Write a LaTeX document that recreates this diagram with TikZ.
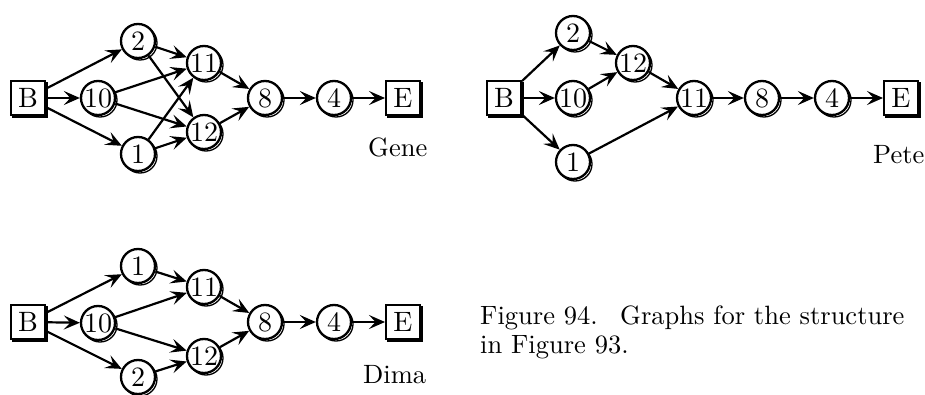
\documentclass[tikz,border=0pt]{standalone}
\usepackage{fontspec}
\setmainfont{lmroman10-regular.otf}
\usetikzlibrary{arrows.meta,shadows}
\begin{document}
\begin{tikzpicture}[x=1pt,y=-1pt,
  nd/.style={circle, draw, line width=2.3pt, fill=white, minimum size=34pt, inner sep=0pt,
    font=\fontsize{28}{32}\selectfont,
    general shadow={shadow xshift=2pt, shadow yshift=-2pt, draw=black, fill=white, line width=1.3pt}},
  bx/.style={rectangle, draw, line width=2pt, fill=white, minimum size=34pt, inner sep=0pt,
    font=\fontsize{28}{32}\selectfont,
    general shadow={shadow xshift=2pt, shadow yshift=-2pt, draw=black, fill=black, line width=2pt}},
  ar/.style={-{Stealth[length=16pt,width=14pt,inset=6.5pt]}, line width=2.2pt},
  lbl/.style={font=\fontsize{26.5}{30}\selectfont, anchor=base west, inner sep=0pt}
]
\useasboundingbox (0,0) rectangle (925,395);
% ---------------- Gene
\node[bx] (gB) at (28,98) {B};
\node[nd] (g2) at (138,41) {2};
\node[nd] (g10) at (98,98) {10};
\node[nd] (g1) at (138,154) {1};
\node[nd] (g11) at (204,63) {11};
\node[nd] (g12) at (204,132) {12};
\node[nd] (g8) at (265,98) {8};
\node[nd] (g4) at (334,98) {4};
\node[bx] (gE) at (403,98) {E};
\node[lbl] (gL) at (368,157) {Gene};
\draw[ar] (gB) -- (g2);
\draw[ar] (gB) -- (g10);
\draw[ar] (gB) -- (g1);
\draw[ar] (g2) -- (g11);
\draw[ar] (g2) -- (g12);
\draw[ar] (g10) -- (g11);
\draw[ar] (g10) -- (g12);
\draw[ar] (g1) -- (g11);
\draw[ar] (g1) -- (g12);
\draw[ar] (g11) -- (g8);
\draw[ar] (g12) -- (g8);
\draw[ar] (g8) -- (g4);
\draw[ar] (g4) -- (gE);
% ---------------- Pete
\node[bx] (pB) at (504,98) {B};
\node[nd] (p2) at (573,33) {2};
\node[nd] (p10) at (573,98) {10};
\node[nd] (p1) at (573,162) {1};
\node[nd] (p12) at (633,63) {12};
\node[nd] (p11) at (694,98) {11};
\node[nd] (p8) at (762,98) {8};
\node[nd] (p4) at (832,98) {4};
\node[bx] (pE) at (901,98) {E};
\node[lbl] (pL) at (873,164) {Pete};
\draw[ar] (pB) -- (p2);
\draw[ar] (pB) -- (p10);
\draw[ar] (pB) -- (p1);
\draw[ar] (p2) -- (p12);
\draw[ar] (p10) -- (p12);
\draw[ar] (p12) -- (p11);
\draw[ar] (p1) -- (p11);
\draw[ar] (p11) -- (p8);
\draw[ar] (p8) -- (p4);
\draw[ar] (p4) -- (pE);
% ---------------- Dima
\node[bx] (dB) at (28,322) {B};
\node[nd] (d1) at (138,266) {1};
\node[nd] (d10) at (98,323) {10};
\node[nd] (d2) at (138,377) {2};
\node[nd] (d11) at (204,287) {11};
\node[nd] (d12) at (204,356) {12};
\node[nd] (d8) at (265,322) {8};
\node[nd] (d4) at (334,322) {4};
\node[bx] (dE) at (403,322) {E};
\node[lbl] (dL) at (363,383) {Dima};
\draw[ar] (dB) -- (d1);
\draw[ar] (dB) -- (d10);
\draw[ar] (dB) -- (d2);
\draw[ar] (d1) -- (d11);
\draw[ar] (d10) -- (d11);
\draw[ar] (d10) -- (d12);
\draw[ar] (d2) -- (d12);
\draw[ar] (d11) -- (d8);
\draw[ar] (d12) -- (d8);
\draw[ar] (d8) -- (d4);
\draw[ar] (d4) -- (dE);
% ---------------- caption
\node[lbl] (cap1) at (480,324) {Figure 94.\hspace{0.85em}Graphs for the structure};
\node[lbl] (cap2) at (480,353) {in Figure 93.};
\end{tikzpicture}
\end{document}
